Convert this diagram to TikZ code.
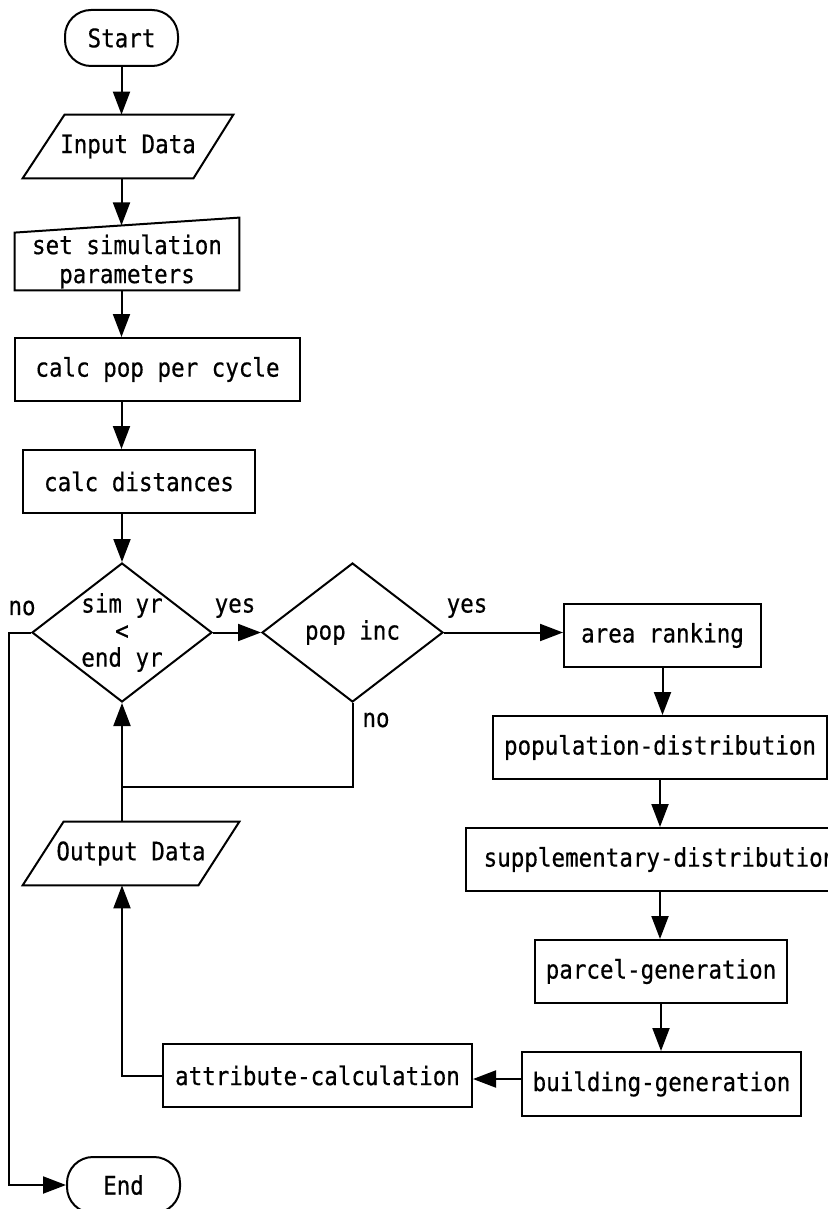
\documentclass[tikz,border=0pt]{standalone}
\usepackage{fontspec}
\setmainfont[FakeStretch=0.88,FakeBold=0.5]{DejaVu Sans Mono}
\usetikzlibrary{arrows.meta,shapes.geometric,calc}
\begin{document}
\begin{tikzpicture}[x=0.5pt,y=-0.5pt,
  every node/.style={font=\fontsize{12.8}{14.5}\selectfont},
  ln/.style={line width=1pt},
  arr/.style={ln,-{Triangle[length=11.5pt,width=8.5pt]}},
  procbox/.style={draw,ln,rectangle,inner sep=0pt,align=center},
  term/.style={draw,ln,rectangle,rounded corners=13pt,inner sep=0pt},
  shapebox/.style={rectangle,inner sep=0pt,align=center},
  dec/.style={draw,ln,diamond,inner sep=0pt},
  dtext/.style={align=center,inner sep=0pt,font=\fontsize{12.8}{13.5}\selectfont},
  lbl/.style={inner sep=0pt}]
\useasboundingbox[fill=white] (0,0) rectangle (828,1209);

% nodes
\node[term,minimum width=56.5pt,minimum height=28pt] (start) at (121.5,38) {Start};
\node[shapebox,minimum width=105pt,minimum height=31.5pt] (input) at (128,146.5) {Input Data};
\node[shapebox,minimum width=112pt,minimum height=28.5pt] (setp) at (127,261.5) {set simulation\\[0pt]parameters};
\node[procbox,minimum width=142.5pt,minimum height=31.5pt] (calcpop) at (157.5,369.5) {calc pop per cycle};
\node[procbox,minimum width=116pt,minimum height=31.5pt] (calcdist) at (139,481.5) {calc distances};
\node[dec,minimum width=90pt,minimum height=69.5pt,
  label={[dtext]center:{sim yr\\<\\end yr}}] (d1) at (122,632.5) {};
\node[dec,minimum width=90.5pt,minimum height=69.5pt,
  label={[dtext]center:{pop inc}}] (d2) at (352.5,632.5) {};
\node[procbox,minimum width=98.5pt,minimum height=31.5pt] (area) at (662.5,635.5) {area ranking};
\node[procbox,minimum width=167pt,minimum height=31.5pt] (popdist) at (660,747.5) {population-distribution};
\node[procbox,minimum width=194pt,minimum height=31.5pt] (supp) at (660,859.5) {supplementary-distribution};
\node[procbox,minimum width=126pt,minimum height=31.5pt] (parcel) at (661,971.5) {parcel-generation};
\node[procbox,minimum width=139.5pt,minimum height=32pt] (building) at (661.5,1084) {building-generation};
\node[procbox,minimum width=154.5pt,minimum height=31.5pt] (attr) at (317.5,1075.5) {attribute-calculation};
\node[shapebox,minimum width=108pt,minimum height=31.5pt] (output) at (131,853.5) {Output Data};
\node[term,minimum width=56.5pt,minimum height=28pt] (end) at (123.5,1185) {End};

% custom outlines
\draw[ln] ([xshift=21pt]input.north west) -- (input.north east)
  -- ([xshift=-20pt]input.south east) -- (input.south west) -- cycle;
\draw[ln] (setp.north west) -- ([yshift=7.5pt]setp.north east)
  -- (setp.south east) -- (setp.south west) -- cycle;
\draw[ln] ([xshift=20.5pt]output.north west) -- (output.north east)
  -- ([xshift=-20.5pt]output.south east) -- (output.south west) -- cycle;

% labels
\node[lbl] (lno1) at (22,608) {no};
\node[lbl] (lyes1) at (235,608) {yes};
\node[lbl] (lyes2) at (467,608) {yes};
\node[lbl] (lno2) at (376,720) {no};

% connectors
\draw[arr] (start.south) -- (start.south |- input.north);
\draw[arr] (input.south -| start.south) -- ([yshift=3.6pt]start.south |- setp.north);
\draw[arr] (setp.south -| start.south) -- (start.south |- calcpop.north);
\draw[arr] (calcpop.south -| start.south) -- (start.south |- calcdist.north);
\draw[arr] (calcdist.south -| d1.north) -- (d1.north);
\draw[arr] (d1.east) -- (d2.west);
\draw[arr] (d2.east) -- (d2.east -| area.west);
\draw[arr] (area.south) -- (area.south |- popdist.north);
\draw[arr] (popdist.south) -- (popdist.south |- supp.north);
\draw[arr] (supp.south) -- (supp.south |- parcel.north);
\draw[arr] (parcel.south) -- (parcel.south |- building.north);
\draw[arr] ([yshift=2.5pt]building.west) -- ([yshift=2.5pt]building.west -| attr.east);
\draw[arr] (attr.west) -| (d1.south |- output.south);
\draw[arr] (d1.south |- output.north) -- (d1.south);
\path (d1.south) ++(0,84) coordinate (merge);
\draw[ln] (d2.south) |- (merge);
\draw[arr] (d1.west) -- ++(-22,0) coordinate (nturn) |- (end.west);
\end{tikzpicture}
\end{document}
